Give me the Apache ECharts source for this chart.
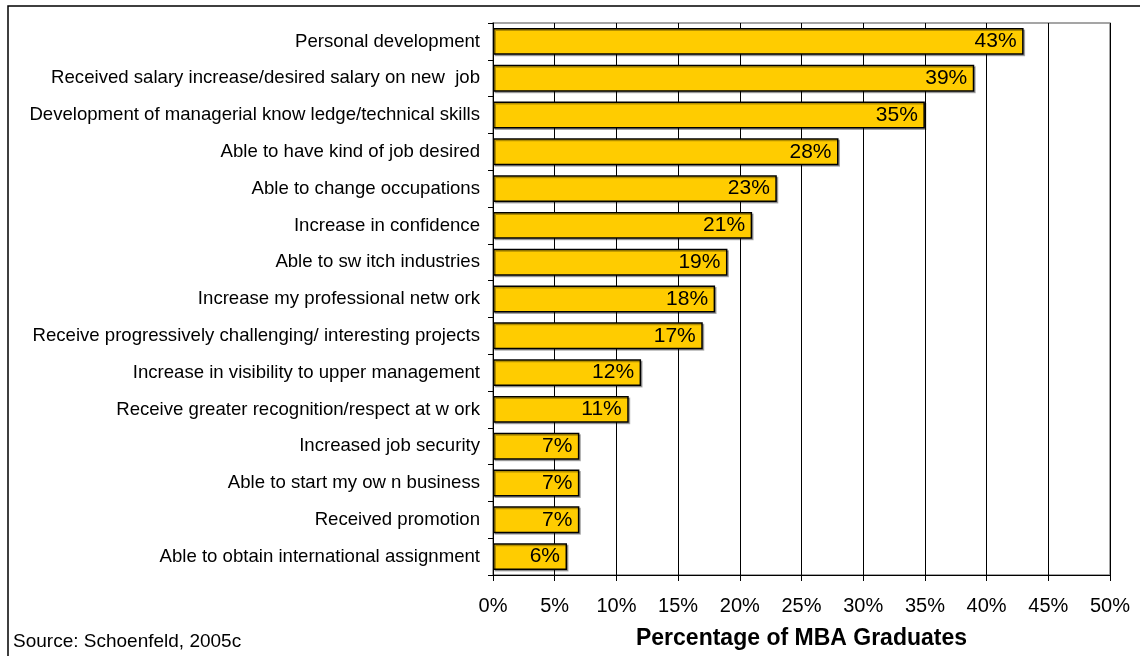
<!DOCTYPE html>
<html><head><meta charset="utf-8">
<script src="https://cdn.jsdelivr.net/npm/echarts@6/dist/echarts.min.js"></script>
<style>html,body{margin:0;padding:0;background:#fff}#c{width:1140px;height:656px}</style>
</head><body><div id="c"></div>
<script>
const categories = [
  "Personal development",
  "Received salary increase/desired salary on new  job",
  "Development of managerial know ledge/technical skills",
  "Able to have kind of job desired",
  "Able to change occupations",
  "Increase in confidence",
  "Able to sw itch industries",
  "Increase my professional netw ork",
  "Receive progressively challenging/ interesting projects",
  "Increase in visibility to upper management",
  "Receive greater recognition/respect at w ork",
  "Increased job security",
  "Able to start my ow n business",
  "Received promotion",
  "Able to obtain international assignment"
];
const values = [43, 39, 35, 28, 23, 21, 19, 18, 17, 12, 11, 7, 7, 7, 6];
const xTicks = [0, 5, 10, 15, 20, 25, 30, 35, 40, 45, 50];
const axisTitle = "Percentage of MBA Graduates";
const sourceText = "Source: Schoenfeld, 2005c";

const chart = echarts.init(document.getElementById('c'));
const font = "'Liberation Sans', Arial, sans-serif";
chart.setOption({
  animation: false,
  grid: { left: 493, right: 30, top: 23, bottom: 81, show: true, borderColor: '#888', borderWidth: 1.5, outerBoundsMode: 'none', containLabel: false },
  graphic: [
    { type: 'rect', shape: { x: 8, y: 6, width: 1140, height: 660 }, style: { fill: 'none', stroke: '#000', lineWidth: 1.5 }, z: 100 },
    { type: 'text', left: 13, top: 632, style: { text: sourceText, font: "19px " + font, fill: '#000' } }
  ],
  xAxis: {
    type: 'value', min: xTicks[0], max: xTicks[xTicks.length - 1], interval: 5,
    name: axisTitle, nameLocation: 'middle', nameGap: 52,
    nameTextStyle: { fontFamily: font, fontSize: 23, fontWeight: 'bold', color: '#000' },
    axisLine: { show: true, lineStyle: { color: '#000', width: 1 } },
    axisTick: { show: true, length: 6, lineStyle: { color: '#000' } },
    axisLabel: { formatter: v => v + '%', fontFamily: font, fontSize: 20, color: '#000', margin: 21 },
    splitLine: { show: true, lineStyle: { color: '#000', width: 1 } }
  },
  yAxis: {
    type: 'category', data: categories, inverse: true,
    axisLine: { show: true, lineStyle: { color: '#000', width: 1 } },
    axisTick: { show: true, length: 5, lineStyle: { color: '#000' } },
    axisLabel: { fontFamily: font, fontSize: 18.6, color: '#000', margin: 13 }
  },
  series: [{
    type: 'bar', data: values, barCategoryGap: '27%',
    itemStyle: { color: '#FFCC00', borderColor: '#000', borderWidth: 1.5, shadowColor: 'rgba(0,0,0,0.3)', shadowOffsetX: 1.5, shadowOffsetY: 1.5 },
    label: { show: true, position: 'insideRight', distance: 7, formatter: p => p.value + '%', fontFamily: font, fontSize: 21, color: '#000' }
  }]
});
</script></body></html>
